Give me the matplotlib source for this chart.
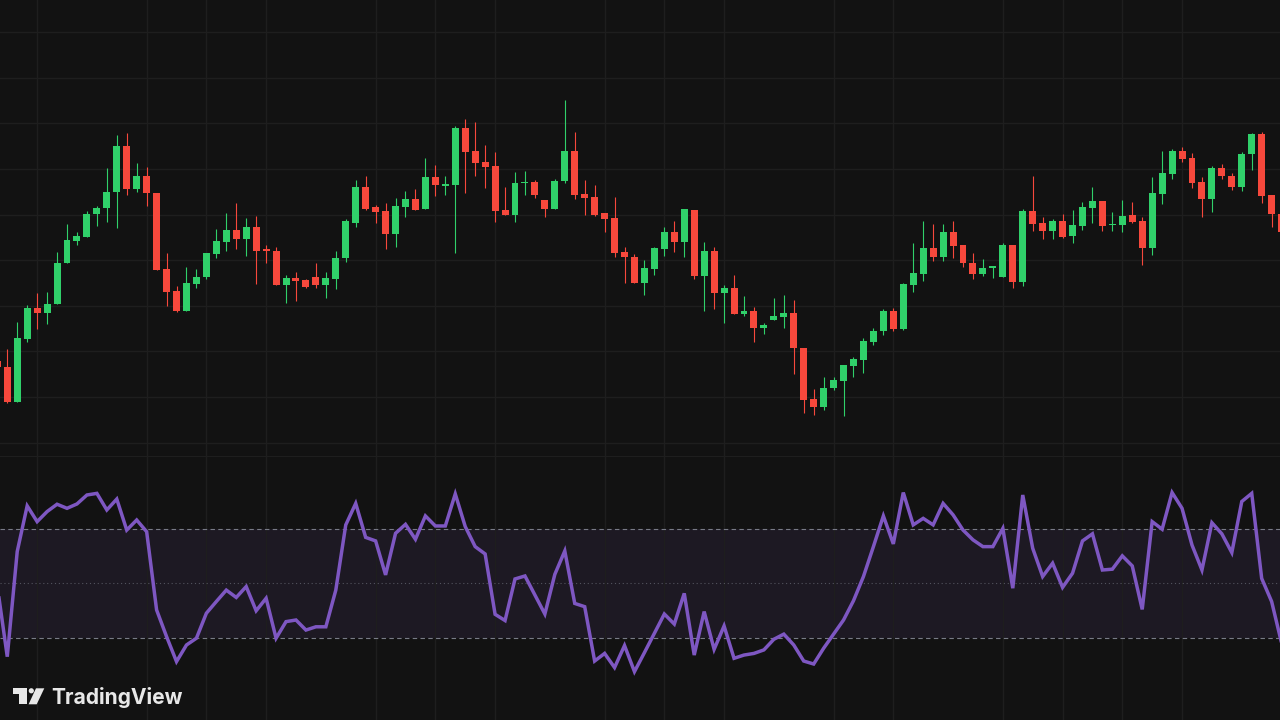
import matplotlib.pyplot as plt
import matplotlib.patches as mpatches
import numpy as np

# candle data, one entry per bar
opens = [139.0, 133.3, 98.3, 161.0, 192.3, 186.7, 195.7, 236.7, 259.3, 262.7,
         286.0, 291.7, 307.7, 354.3, 310.7, 324.3, 307.3, 231.0, 209.3, 189.0,
         216.0, 223.3, 246.0, 258.0, 270.0, 261.0, 273.3, 250.7, 249.3, 215.0,
         222.3, 220.0, 223.3, 215.0, 221.0, 241.7, 277.3, 312.7, 292.7, 289.3,
         265.7, 293.3, 301.0, 290.7, 323.3, 314.3, 315.0, 371.7, 349.3, 337.7,
         334.0, 290.0, 285.0, 316.7, 318.3, 300.0, 290.7, 319.3, 349.3, 306.0,
         302.7, 287.3, 281.7, 247.7, 243.3, 217.3, 231.0, 250.7, 268.3, 258.3,
         290.0, 224.3, 249.3, 206.7, 211.7, 185.7, 189.0, 172.3, 180.0, 182.7,
         186.7, 152.3, 100.7, 93.3, 111.7, 119.3, 134.3, 140.0, 158.3, 169.0,
         189.0, 170.7, 215.0, 226.0, 251.7, 242.7, 267.7, 255.0, 237.3, 225.7,
         231.7, 223.3, 255.0, 217.7, 289.3, 277.3, 269.3, 279.3, 264.3, 274.0,
         292.3, 299.0, 275.0, 275.0, 285.0, 279.3, 251.7, 305.7, 326.0, 349.3,
         341.7, 318.3, 301.0, 332.3, 324.0, 312.7, 345.7, 365.7, 305.0, 286.0]
highs = [142.0, 150.7, 177.7, 195.0, 206.7, 207.7, 247.7, 276.0, 268.3, 289.0,
         294.0, 331.7, 365.0, 366.7, 336.7, 333.3, 307.3, 246.7, 214.3, 233.3,
         231.0, 247.3, 270.7, 286.7, 296.7, 281.7, 283.7, 255.0, 253.3, 225.0,
         228.3, 220.7, 237.3, 228.3, 249.0, 280.7, 320.0, 324.0, 295.0, 297.3,
         301.7, 309.3, 311.0, 341.7, 335.0, 324.3, 374.0, 380.7, 377.7, 355.0,
         347.7, 313.3, 328.3, 329.3, 320.0, 300.0, 320.7, 400.0, 367.7, 320.0,
         315.0, 287.3, 303.3, 253.3, 245.7, 240.0, 253.3, 273.3, 279.3, 291.0,
         290.0, 257.7, 253.3, 215.0, 225.0, 204.0, 193.3, 177.3, 202.3, 205.0,
         200.0, 152.3, 110.7, 123.3, 123.3, 135.0, 142.7, 161.7, 172.3, 190.7,
         192.3, 216.7, 257.3, 279.3, 275.7, 275.7, 279.3, 255.0, 247.3, 240.7,
         234.3, 256.7, 255.0, 291.0, 324.3, 282.7, 281.0, 286.0, 290.0, 298.3,
         313.3, 299.0, 288.3, 300.0, 298.3, 283.3, 323.3, 349.3, 350.7, 352.7,
         346.7, 323.3, 334.3, 336.0, 326.7, 347.7, 366.7, 368.3, 305.0, 286.0]
lows = [131.0, 96.7, 98.3, 158.3, 170.7, 176.0, 195.7, 236.7, 255.0, 262.7,
        274.0, 278.3, 272.3, 305.0, 308.3, 294.0, 230.0, 194.3, 187.7, 189.0,
        212.3, 221.0, 241.7, 249.3, 251.0, 244.0, 216.0, 237.3, 214.7, 196.7,
        199.0, 212.3, 212.3, 201.7, 210.7, 237.7, 273.3, 290.0, 276.7, 250.7,
        252.7, 282.7, 290.0, 290.7, 304.3, 305.0, 246.7, 306.7, 324.3, 312.3,
        278.3, 285.0, 278.3, 305.0, 301.7, 282.7, 290.7, 316.7, 300.7, 285.0,
        284.0, 267.7, 243.3, 216.7, 217.3, 205.0, 225.0, 244.3, 248.3, 243.3,
        220.7, 189.0, 190.7, 176.7, 186.0, 184.0, 158.3, 165.7, 180.0, 171.7,
        126.0, 87.3, 85.0, 90.0, 110.0, 84.0, 123.3, 126.7, 155.0, 165.0,
        169.3, 170.0, 208.3, 219.3, 239.3, 239.3, 241.7, 233.3, 220.7, 224.0,
        221.7, 223.3, 212.3, 214.0, 269.0, 260.7, 260.7, 261.7, 257.3, 270.0,
        277.3, 269.0, 269.3, 268.3, 276.7, 235.0, 245.0, 295.7, 321.0, 338.3,
        312.3, 282.7, 288.3, 320.7, 310.0, 309.3, 330.0, 296.7, 273.3, 266.0]
closes = [133.0, 98.3, 161.7, 192.3, 186.7, 195.7, 237.3, 260.0, 264.3, 285.7,
          292.3, 308.3, 354.3, 310.7, 324.3, 306.7, 230.0, 208.3, 189.0, 217.3,
          223.3, 247.3, 259.3, 270.0, 261.0, 272.7, 249.3, 249.3, 214.7, 221.7,
          219.0, 213.3, 215.0, 222.3, 241.7, 279.0, 312.7, 291.0, 288.3, 265.7,
          294.3, 301.0, 290.0, 323.3, 315.0, 316.0, 371.7, 348.3, 336.7, 333.3,
          289.3, 285.0, 317.3, 318.3, 305.0, 290.7, 319.3, 349.3, 305.0, 302.3,
          285.0, 280.7, 246.7, 243.3, 217.3, 231.7, 251.7, 268.3, 258.3, 291.0,
          224.0, 249.3, 206.7, 211.7, 186.0, 189.0, 172.3, 175.0, 184.0, 186.7,
          151.7, 100.0, 93.3, 112.3, 120.0, 135.0, 140.7, 159.0, 169.3, 189.0,
          170.7, 216.0, 226.7, 251.7, 242.7, 267.7, 254.0, 236.7, 225.7, 232.3,
          234.3, 255.0, 217.7, 289.3, 276.0, 269.3, 279.3, 263.3, 275.0, 293.3,
          299.0, 274.0, 276.0, 284.3, 278.3, 251.7, 306.7, 326.7, 349.3, 340.7,
          317.3, 301.0, 332.3, 324.0, 312.7, 346.0, 365.7, 304.3, 286.0, 268.0]

# RSI values per bar
rsi = [49.0, 23.0, 61.7, 78.5, 72.7, 76.4, 79.1, 77.6, 79.2, 82.5,
       83.1, 77.0, 81.0, 69.6, 73.3, 69.0, 40.2, 30.4, 21.2, 27.3,
       29.8, 39.0, 43.3, 47.5, 44.8, 48.8, 39.9, 44.5, 29.8, 35.9,
       36.5, 32.8, 34.0, 34.0, 47.5, 71.5, 79.4, 66.9, 65.6, 53.1,
       68.4, 71.7, 66.2, 74.8, 71.1, 71.1, 82.9, 70.9, 63.5, 60.8,
       38.6, 36.3, 51.6, 52.7, 45.7, 38.7, 53.3, 61.9, 42.6, 41.4,
       21.4, 24.2, 19.0, 27.1, 17.5, 24.5, 31.6, 38.7, 35.0, 46.3,
       23.6, 39.6, 25.7, 34.3, 22.4, 23.6, 24.2, 25.5, 29.4, 31.3,
       27.3, 21.4, 20.3, 26.1, 31.3, 36.5, 43.6, 52.5, 63.5, 74.8,
       64.5, 83.4, 71.5, 73.9, 71.5, 79.4, 75.2, 69.6, 66.0, 63.5,
       63.5, 70.2, 48.2, 82.5, 62.9, 52.5, 57.4, 48.5, 53.7, 65.6,
       68.2, 54.9, 55.2, 60.1, 56.4, 40.4, 72.7, 69.9, 83.4, 77.6,
       64.1, 54.9, 72.3, 68.2, 61.3, 80.1, 83.1, 51.8, 43.3, 28.0]

# bars where the time grid lines sit
time_grid = [4, 15, 21, 27, 38, 44, 50, 61, 67, 73, 84, 90, 101, 107, 113, 119]
# price levels of the horizontal grid
price_grid = [57.5, 103.1, 148.7, 194.3, 239.9, 285.5, 331.1, 376.7, 422.3, 468.0]

BG = '#121212'
GRID = '#1e1e1e'
UP = '#30d06a'
DOWN = '#f6483c'
RSI_C = '#7e57c2'

o = np.array(opens)
h = np.array(highs)
l = np.array(lows)
c = np.array(closes)
x = np.arange(len(o))
up = c >= o
col = np.where(up, UP, DOWN)

fig = plt.figure(figsize=(12.8, 7.2), dpi=100, facecolor=BG)
ax = fig.add_axes([0, 1 - 456 / 720, 1, 456 / 720])
ax2 = fig.add_axes([0, 0, 1, 264 / 720])

for a in (ax, ax2):
    a.set_facecolor(BG)
    a.set_xticks(time_grid)
    a.set_xlim(0.27, 128.84)
    a.tick_params(length=0, labelbottom=False, labelleft=False)
    a.grid(True, axis='x', color=GRID, lw=1.0)
    for s in a.spines.values():
        s.set_visible(False)

# price pane
ax.set_yticks(price_grid)
ax.set_ylim(44, 500)
ax.grid(True, axis='y', color=GRID, lw=1.0)
ax.vlines(x, l, h, colors=col, lw=0.8, zorder=2)
body = np.maximum(np.abs(c - o), 1.0)
ax.bar(x, body, bottom=np.minimum(o, c), width=0.7, color=col, lw=0, zorder=3)

# RSI pane
ax2.set_yticks([])
ax2.set_ylim(-0.3, 96.85)
ax2.spines['top'].set_visible(True)
ax2.spines['top'].set_color(GRID)
ax2.axhspan(30, 70, color=RSI_C, alpha=0.1, lw=0)
ax2.axhline(70, color='#787b86', lw=0.8, dashes=(4, 3))
ax2.axhline(30, color='#787b86', lw=0.8, dashes=(4, 3))
ax2.axhline(50, color='#787b86', lw=0.8, alpha=0.6, dashes=(1, 2.5))
ax2.plot(x, rsi, color=RSI_C, lw=2.5, solid_joinstyle='miter', zorder=3)

# watermark
ov = fig.add_axes([0, 0, 1, 1], facecolor='none')
ov.set_xlim(0, 1280)
ov.set_ylim(720, 0)
ov.axis('off')
wm = '#e8e8e8'
ov.add_patch(mpatches.Polygon([(12.7, 688.3), (26.7, 688.3), (26.7, 704.3), (19.3, 704.3),
                               (19.3, 694.3), (12.7, 694.3)], closed=True, color=wm, lw=0))
ov.add_patch(mpatches.Circle((31.3, 690.8), 2.6, color=wm, lw=0))
ov.add_patch(mpatches.Polygon([(36.0, 688.3), (44.3, 688.3), (36.7, 704.3), (28.6, 704.3)],
                              closed=True, color=wm, lw=0))
ov.text(51.5, 704.3, 'TradingView', color=wm, fontsize=15.1, fontweight='bold',
        family='Inter', ha='left', va='baseline')

fig.savefig('out.png', dpi=100, facecolor=BG)
